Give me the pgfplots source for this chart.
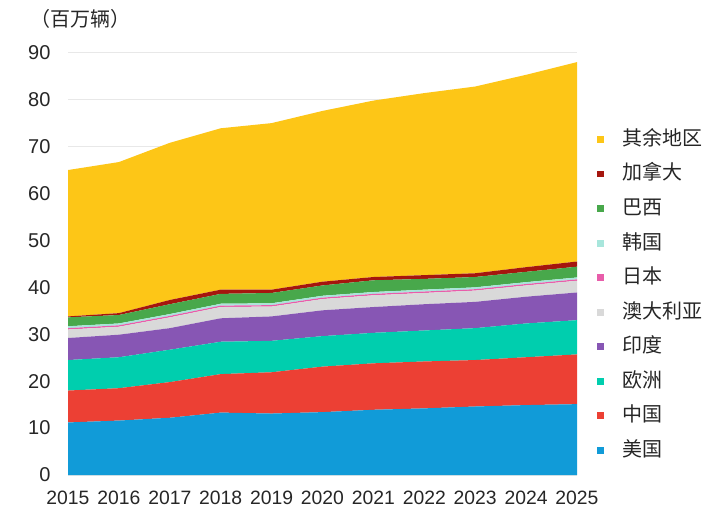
\documentclass[border=0pt]{standalone}
\usepackage{fontspec}
\setmainfont{Liberation Sans}
\newfontfamily\cjk{Noto Sans CJK SC}
\usepackage{pgfplots}
\pgfplotsset{compat=1.18}
\usepackage{pgfplotstable}

\definecolor{cUS}{RGB}{17,155,216}
\definecolor{cCN}{RGB}{236,64,52}
\definecolor{cEU}{RGB}{0,206,174}
\definecolor{cIN}{RGB}{135,86,180}
\definecolor{cAU}{RGB}{217,217,217}
\definecolor{cJP}{RGB}{232,93,170}
\definecolor{cKR}{RGB}{168,230,220}
\definecolor{cBR}{RGB}{72,168,75}
\definecolor{cCA}{RGB}{165,22,14}
\definecolor{cRE}{RGB}{253,198,23}
\definecolor{txt}{RGB}{38,38,38}

\pgfplotstableread{
year us cn eu in au jp kr br ca rest
2015 11.2 6.8 6.5 4.7 1.8 0.3 0.4 1.9 0.2 31.2
2016 11.6 6.9 6.6 4.8 1.7 0.3 0.4 1.8 0.4 32.2
2017 12.2 7.6 6.9 4.6 2.3 0.3 0.4 2.1 0.9 33.5
2018 13.3 8.2 6.9 5.0 2.4 0.3 0.4 2.1 0.9 34.4
2019 13.1 8.8 6.7 5.2 2.1 0.3 0.4 2.2 0.7 35.5
2020 13.4 9.7 6.5 5.5 2.4 0.3 0.4 2.2 0.8 36.4
2021 13.9 9.9 6.5 5.5 2.5 0.3 0.4 2.5 0.7 37.6
2022 14.2 10.0 6.6 5.6 2.4 0.3 0.4 2.3 0.8 38.8
2023 14.6 9.9 6.8 5.6 2.4 0.3 0.4 2.2 0.8 39.8
2024 14.9 10.2 7.2 5.7 2.4 0.3 0.4 2.2 1.0 41.0
2025 15.1 10.6 7.3 5.9 2.5 0.3 0.4 2.3 1.1 42.5
}\data

\begin{document}
\begin{tikzpicture}
\useasboundingbox (0,0) rectangle (534.75pt,385.5pt);
\begin{axis}[
  at={(51pt,29.25pt)}, anchor=south west,
  scale only axis,
  width=381.75pt, height=316.7pt,
  xmin=2015, xmax=2025, ymin=0, ymax=90,
  stack plots=y,
  axis line style={draw=none},
  major tick length=0pt,
  xtick={2015,...,2025},
  xticklabels={2015,2016,2017,2018,2019,2020,2021,2022,2023,2024,2025},
  ytick={0,10,...,90},
  ymajorgrids,
  grid style={draw=black!9, line width=0.8pt},
  /pgf/number format/assume math mode=true,
  tick label style={text=txt},
  xticklabel style={font=\fontsize{14.5}{16}\selectfont, anchor=north, inner sep=0pt, yshift=-12pt},
  yticklabel style={font=\fontsize{15}{17}\selectfont, anchor=east, inner sep=0pt, xshift=-13pt},
  reverse legend,
  legend cell align=left,
  legend style={at={(1.039,0.819)}, anchor=north west, draw=none, fill=none,
    inner sep=0pt, row sep=10.9pt,
    font=\cjk\fontsize{15}{17}\selectfont, text=txt,
    nodes={inner sep=0pt, text height=12pt, text depth=3pt}},
  legend image code/.code={
    \path[fill=none, draw=none] (0pt,0pt) rectangle (18.75pt,0pt);
    \fill[#1] (0pt,-2.6pt) rectangle (5.2pt,2.6pt);
  },
]
\addplot[fill=cUS, draw=none] table[x=year,y=us]{\data} \closedcycle;
\addlegendentry{美国}
\addplot[fill=cCN, draw=none] table[x=year,y=cn]{\data} \closedcycle;
\addlegendentry{中国}
\addplot[fill=cEU, draw=none] table[x=year,y=eu]{\data} \closedcycle;
\addlegendentry{欧洲}
\addplot[fill=cIN, draw=none] table[x=year,y=in]{\data} \closedcycle;
\addlegendentry{印度}
\addplot[fill=cAU, draw=none] table[x=year,y=au]{\data} \closedcycle;
\addlegendentry{澳大利亚}
\addplot[fill=cJP, draw=none] table[x=year,y=jp]{\data} \closedcycle;
\addlegendentry{日本}
\addplot[fill=cKR, draw=none] table[x=year,y=kr]{\data} \closedcycle;
\addlegendentry{韩国}
\addplot[fill=cBR, draw=none] table[x=year,y=br]{\data} \closedcycle;
\addlegendentry{巴西}
\addplot[fill=cCA, draw=none] table[x=year,y=ca]{\data} \closedcycle;
\addlegendentry{加拿大}
\addplot[fill=cRE, draw=none] table[x=year,y=rest]{\data} \closedcycle;
\addlegendentry{其余地区}
\end{axis}
\node[anchor=west, inner sep=0pt, text=txt, font=\cjk\fontsize{15}{17}\selectfont] at (22.5pt,371.25pt) {（百万辆）};
\end{tikzpicture}
\end{document}
